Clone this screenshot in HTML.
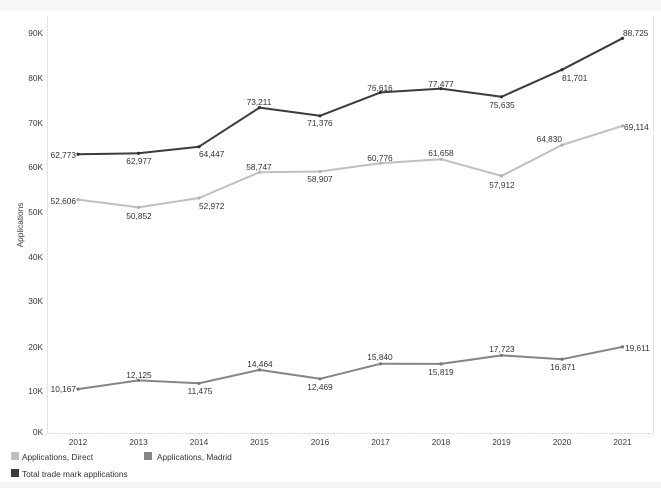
<!DOCTYPE html>
<html>
<head>
<meta charset="utf-8">
<style>
html,body{margin:0;padding:0;background:#fff;}
svg{display:block;}
text{font-family:"Liberation Sans",Arial,sans-serif;}
</style>
</head>
<body>
<svg width="661" height="488" viewBox="0 0 661 488" xmlns="http://www.w3.org/2000/svg">
<rect x="0" y="0" width="661" height="488" fill="#ffffff"/>
<rect x="0" y="0" width="661" height="10" fill="#f6f6f6"/>
<rect x="0" y="482" width="661" height="6" fill="#f3f3f3"/>

<!-- axes -->
<line x1="47.5" y1="16" x2="47.5" y2="433" stroke="#e4e4e4" stroke-width="1"/>
<line x1="653.5" y1="16" x2="653.5" y2="433" stroke="#e4e4e4" stroke-width="1"/>
<line x1="48" y1="433.5" x2="653" y2="433.5" stroke="#d8d8d8" stroke-width="1" stroke-dasharray="2,1"/>

<!-- y tick labels -->
<g font-size="8.3" fill="#3a3a3a" text-anchor="end">
<text x="43" y="36">90K</text>
<text x="43" y="81">80K</text>
<text x="43" y="126">70K</text>
<text x="43" y="170">60K</text>
<text x="43" y="215">50K</text>
<text x="43" y="260">40K</text>
<text x="43" y="304">30K</text>
<text x="43" y="350">20K</text>
<text x="43" y="394">10K</text>
<text x="43" y="435">0K</text>
</g>
<text x="0" y="0" font-size="8.3" fill="#3a3a3a" text-anchor="middle" transform="translate(23,225) rotate(-90)">Applications</text>

<!-- x labels -->
<g font-size="8.3" fill="#3a3a3a" text-anchor="middle">
<text x="78" y="445">2012</text>
<text x="138.5" y="445">2013</text>
<text x="199" y="445">2014</text>
<text x="259.5" y="445">2015</text>
<text x="320" y="445">2016</text>
<text x="380.5" y="445">2017</text>
<text x="441" y="445">2018</text>
<text x="501.5" y="445">2019</text>
<text x="562" y="445">2020</text>
<text x="622.5" y="445">2021</text>
</g>

<!-- series: Direct -->
<polyline fill="none" stroke="#c0c0c0" stroke-width="2" stroke-linejoin="round"
 points="78,199.6 138.5,207.4 199,198.0 259.5,172.2 320,171.5 380.5,163.1 441,159.2 501.5,175.9 562,145.0 622.5,125.9"/>
<g fill="#b0b0b0">
<circle cx="78" cy="199.6" r="1.6"/><circle cx="138.5" cy="207.4" r="1.6"/><circle cx="199" cy="198" r="1.6"/><circle cx="259.5" cy="172.2" r="1.6"/><circle cx="320" cy="171.5" r="1.6"/><circle cx="380.5" cy="163.1" r="1.6"/><circle cx="441" cy="159.2" r="1.6"/><circle cx="501.5" cy="175.9" r="1.6"/><circle cx="562" cy="145" r="1.6"/><circle cx="622.5" cy="125.9" r="1.6"/>
</g>

<!-- series: Madrid -->
<polyline fill="none" stroke="#858585" stroke-width="2" stroke-linejoin="round"
 points="78,389.1 138.5,380.4 199,383.3 259.5,369.9 320,378.8 380.5,363.8 441,363.9 501.5,355.4 562,359.2 622.5,346.9"/>
<g fill="#777">
<circle cx="78" cy="389.1" r="1.6"/><circle cx="138.5" cy="380.4" r="1.6"/><circle cx="199" cy="383.3" r="1.6"/><circle cx="259.5" cy="369.9" r="1.6"/><circle cx="320" cy="378.8" r="1.6"/><circle cx="380.5" cy="363.8" r="1.6"/><circle cx="441" cy="363.9" r="1.6"/><circle cx="501.5" cy="355.4" r="1.6"/><circle cx="562" cy="359.2" r="1.6"/><circle cx="622.5" cy="346.9" r="1.6"/>
</g>

<!-- series: Total -->
<polyline fill="none" stroke="#3c3c3c" stroke-width="2" stroke-linejoin="round"
 points="78,154.2 138.5,153.3 199,146.7 259.5,107.6 320,115.8 380.5,92.4 441,88.6 501.5,96.8 562,69.7 622.5,38.3"/>
<g fill="#2e2e2e">
<circle cx="78" cy="154.2" r="1.6"/><circle cx="138.5" cy="153.3" r="1.6"/><circle cx="199" cy="146.7" r="1.6"/><circle cx="259.5" cy="107.6" r="1.6"/><circle cx="320" cy="115.8" r="1.6"/><circle cx="380.5" cy="92.4" r="1.6"/><circle cx="441" cy="88.6" r="1.6"/><circle cx="501.5" cy="96.8" r="1.6"/><circle cx="562" cy="69.7" r="1.6"/><circle cx="622.5" cy="38.3" r="1.6"/>
</g>

<!-- data labels -->
<g font-size="8.3" fill="#333">
<!-- Total -->
<text x="76" y="158" text-anchor="end">62,773</text>
<text x="139" y="164" text-anchor="middle">62,977</text>
<text x="199" y="157">64,447</text>
<text x="259" y="105" text-anchor="middle">73,211</text>
<text x="320" y="126" text-anchor="middle">71,376</text>
<text x="380" y="91" text-anchor="middle">76,616</text>
<text x="441" y="87" text-anchor="middle">77,477</text>
<text x="502" y="108" text-anchor="middle">75,635</text>
<text x="562" y="81">81,701</text>
<text x="623" y="36">88,725</text>
<!-- Direct -->
<text x="76" y="204" text-anchor="end">52,606</text>
<text x="139" y="219" text-anchor="middle">50,852</text>
<text x="199" y="209">52,972</text>
<text x="259" y="170" text-anchor="middle">58,747</text>
<text x="320" y="182" text-anchor="middle">58,907</text>
<text x="380" y="161" text-anchor="middle">60,776</text>
<text x="441" y="156" text-anchor="middle">61,658</text>
<text x="502" y="188" text-anchor="middle">57,912</text>
<text x="562" y="142" text-anchor="end">64,830</text>
<text x="624" y="130">69,114</text>
<!-- Madrid -->
<text x="76" y="392" text-anchor="end">10,167</text>
<text x="139" y="378" text-anchor="middle">12,125</text>
<text x="200" y="394" text-anchor="middle">11,475</text>
<text x="260" y="367" text-anchor="middle">14,464</text>
<text x="320" y="390" text-anchor="middle">12,469</text>
<text x="380" y="360" text-anchor="middle">15,840</text>
<text x="441" y="375" text-anchor="middle">15,819</text>
<text x="502" y="352" text-anchor="middle">17,723</text>
<text x="563" y="370" text-anchor="middle">16,871</text>
<text x="625" y="351">19,611</text>
</g>

<!-- legend -->
<rect x="11" y="452" width="8" height="8" fill="#c0c0c0"/>
<text x="22" y="460" font-size="8.3" fill="#333">Applications, Direct</text>
<rect x="144" y="452" width="8" height="8" fill="#858585"/>
<text x="157" y="460" font-size="8.3" fill="#333">Applications, Madrid</text>
<rect x="11" y="469" width="8" height="8" fill="#3c3c3c"/>
<text x="22" y="477" font-size="8.3" fill="#333">Total trade mark applications</text>
</svg>
</body>
</html>
